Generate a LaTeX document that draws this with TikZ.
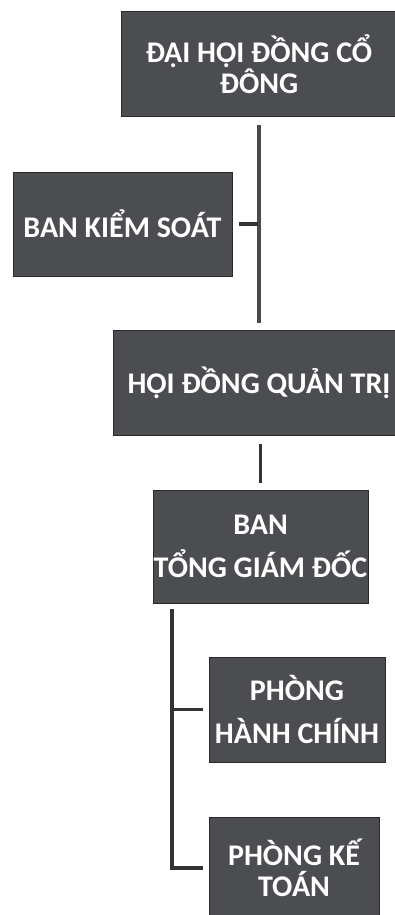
\documentclass[tikz,border=0pt]{standalone}
\usepackage{fontspec}
\setmainfont{Carlito}
\definecolor{boxfill}{HTML}{4B4D50}
\definecolor{boxedge}{HTML}{2A2A2A}
\definecolor{linec}{HTML}{333333}
\definecolor{spinec}{HTML}{4A4A4A}
\tikzset{
  orgbox/.style={rectangle, fill=boxfill, draw=boxedge, line width=1pt,
    inner sep=0pt, text=white, align=center,
    font=\fontsize{30}{31}\selectfont\bfseries},
  widegap/.style={font=\fontsize{30}{43}\selectfont\bfseries},
  conn/.style={draw=linec, line width=3.5pt},
  spine/.style={draw=spinec, line width=4pt}
}
\begin{document}
\begin{tikzpicture}[x=1pt,y=-1pt]
\useasboundingbox (0,0) rectangle (395,915);
\clip (0,0) rectangle (395,915);
\fill[white] (0,0) rectangle (395,915);
% boxes (centre, size)
\node[orgbox, minimum width=276pt, minimum height=105pt] (dhd) at (259,64.5) {ĐẠI HỘI ĐỒNG CỔ\\ĐÔNG};
\node[orgbox, minimum width=219pt, minimum height=104pt] (bks) at (122.5,224) {BAN KIỂM SOÁT};
\node[orgbox, minimum width=292pt, minimum height=105pt] (hdqt) at (259,382.5) {HỘI ĐỒNG QUẢN TRỊ};
\node[orgbox, widegap, minimum width=215pt, minimum height=113pt] (btgd) at (260.5,546.5) {BAN\\TỔNG GIÁM ĐỐC};
\node[orgbox, widegap, minimum width=176pt, minimum height=105pt] (phc) at (297,709.5) {PHÒNG\\HÀNH CHÍNH};
\node[orgbox, minimum width=170pt, minimum height=102pt] (pkt) at (294,868) {PHÒNG KẾ\\TOÁN};
% connectors
\coordinate (axis) at (259,0);
\coordinate (trunk) at (172,0);
\draw[spine, shorten <=8pt, shorten >=7pt] (dhd.south -| axis) -- (hdqt.north -| axis);
\draw[conn, shorten <=6pt, shorten >=1pt] (bks.east) -- (bks.east -| axis);
\draw[conn, shorten <=8pt, shorten >=7pt] (btgd.north |- hdqt.south) -- (btgd.north);
\draw[conn, shorten <=5pt, shorten >=6pt] (btgd.south -| trunk) -- (pkt.west -| trunk) -- (pkt.west);
\draw[conn, shorten >=6pt] (phc.west -| trunk) -- (phc.west);
\end{tikzpicture}
\end{document}
